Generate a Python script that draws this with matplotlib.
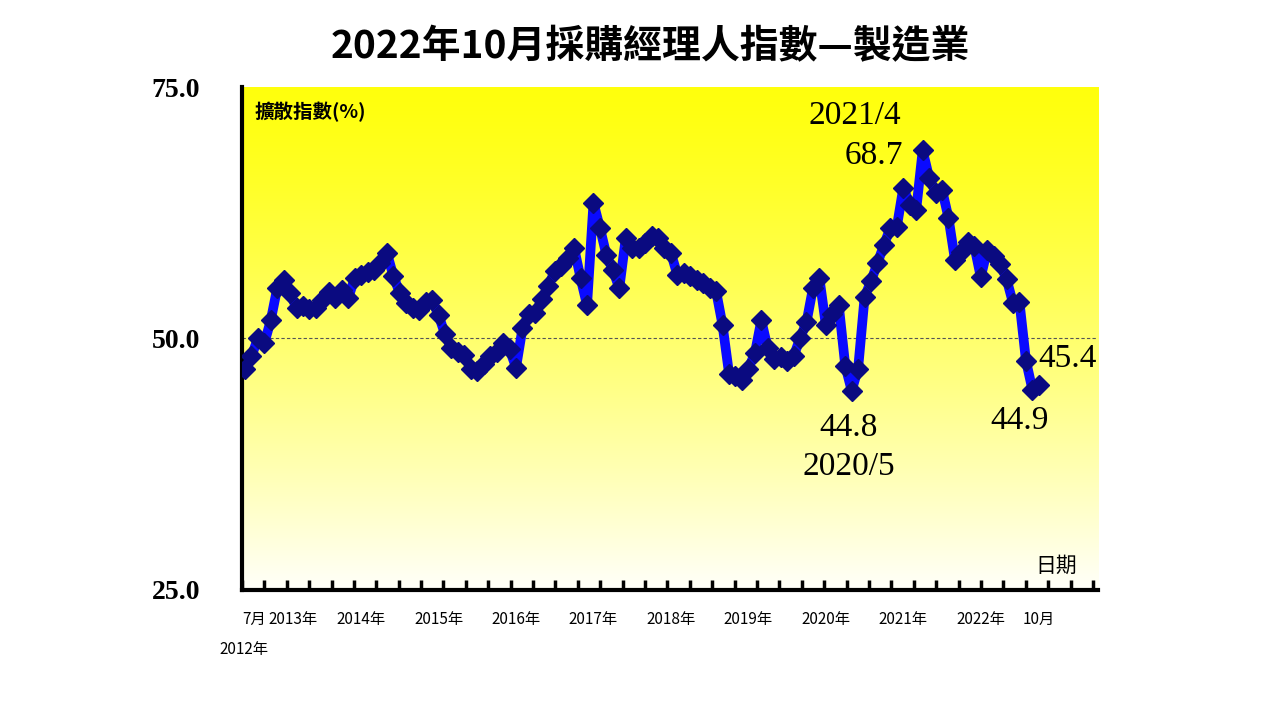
import numpy as np
import matplotlib.pyplot as plt

plt.rcParams['font.family'] = ['Noto Sans CJK TC', 'DejaVu Sans']

# Monthly PMI, Jul 2012 - Oct 2022
pmi_2012 = [47.0, 48.2, 50.0, 49.5, 51.8, 55.0]
pmi_2013 = [55.8, 54.5, 53.0, 53.2, 52.9, 53.0, 53.8, 54.6, 54.0, 54.8, 54.0, 56.0]
pmi_2014 = [56.3, 56.6, 56.8, 57.5, 58.5, 56.2, 54.5, 53.5, 53.0, 52.8, 53.6, 53.8]
pmi_2015 = [52.3, 50.4, 49.0, 48.6, 48.3, 47.0, 46.8, 47.5, 48.2, 48.6, 49.5, 48.9]
pmi_2016 = [47.1, 51.0, 52.4, 52.5, 53.9, 55.2, 56.7, 57.2, 58.0, 59.0, 56.0, 53.3]
pmi_2017 = [63.5, 61.0, 58.3, 56.8, 55.0, 60.0, 59.0, 59.0, 59.5, 60.2, 60.0, 59.0]
pmi_2018 = [58.5, 56.3, 56.5, 56.2, 55.8, 55.5, 55.0, 54.7, 51.3, 46.5, 46.3, 45.9]
pmi_2019 = [47.0, 48.5, 51.8, 49.0, 48.0, 48.1, 47.8, 48.2, 50.0, 51.6, 55.0, 56.0]
pmi_2020 = [51.3, 52.4, 53.3, 47.3, 44.8, 47.0, 54.1, 55.7, 57.5, 59.3, 61.0, 61.1]
pmi_2021 = [65.0, 63.3, 62.8, 68.7, 66.0, 64.5, 64.8, 62.0, 57.8, 58.6, 59.6, 59.2]
pmi_2022 = [56.1, 58.8, 58.2, 57.4, 55.9, 53.5, 53.6, 47.8, 44.9, 45.4]

pmi = pmi_2012 + pmi_2013 + pmi_2014 + pmi_2015 + pmi_2016 + pmi_2017 + \
    pmi_2018 + pmi_2019 + pmi_2020 + pmi_2021 + pmi_2022
months = np.arange(len(pmi))

year_labels = ['2013年', '2014年', '2015年', '2016年', '2017年', '2018年',
               '2019年', '2020年', '2021年', '2022年']

fig = plt.figure(figsize=(12.8, 7.2), dpi=100)
ax = fig.add_axes([0.189, 0.181, 0.669, 0.698])

x0, x1 = -0.47, 132.2
ax.set_xlim(x0, x1)
ax.set_ylim(25, 75)

# yellow gradient background
grad = np.linspace(0, 1, 256).reshape(-1, 1)
cols = np.zeros((256, 1, 3))
cols[..., 0] = 1.0
cols[..., 1] = 1.0
cols[..., 2] = 0.05 + 0.93 * (1 - grad[::-1]) ** 1.3
ax.imshow(cols, extent=[x0, x1, 25, 75], aspect='auto', origin='upper', zorder=0)

ax.axhline(50, color='#555555', lw=0.8, ls=(0, (3, 2)), zorder=1)
ax.plot(months, pmi, color='#0a0aff', lw=7, zorder=2)
ax.plot(months, pmi, ls='none', marker='D', ms=10, color='#0a0a80', zorder=3)

for s in ['top', 'right']:
    ax.spines[s].set_visible(False)
ax.spines['left'].set_linewidth(3)
ax.spines['bottom'].set_linewidth(3)

ax.set_yticks([25, 50, 75])
ax.set_yticklabels(['25.0', '50.0', '75.0'], family='Liberation Serif',
                   fontweight='bold', fontsize=20)
ax.tick_params(axis='y', length=0, pad=30)

ax.set_xticks(x0 + np.arange(39) * 3.47)
ax.set_xticklabels([])
ax.tick_params(axis='x', direction='in', length=7, width=2.5)

lab_y = 22.0
ax.text(-0.4, lab_y, '7月', fontsize=11, ha='left', va='center')
for k, lab in enumerate(year_labels):
    ax.text(6 + 12 * k + (1.5 if k == 0 else 0), lab_y, lab, fontsize=11,
            ha='center', va='center')
ax.text(123, lab_y, '10月', fontsize=11, ha='center', va='center')
ax.text(-4, 19.0, '2012年', fontsize=11, ha='left', va='center')

ax.text(1.5, 72.5, '擴散指數(%)', fontsize=14, fontweight='bold', va='center')
ax.text(129, 27.4, '日期', fontsize=15, va='center', ha='right')

serif = dict(family='Liberation Serif', fontsize=24, ha='center')
ax.text(94.5, 72.2, '2021/4', va='center', **serif)
ax.text(97.5, 68.2, '68.7', va='center', **serif)
ax.text(93.5, 41.1, '44.8', va='center', **serif)
ax.text(93.5, 37.2, '2020/5', va='center', **serif)
ax.text(120, 41.8, '44.9', va='center', **serif)
ax.text(127.5, 48.0, '45.4', va='center', **serif)

fig.text(0.508, 0.935, '2022年10月採購經理人指數—製造業', fontsize=28,
         fontweight='bold', ha='center', va='center')

fig.savefig('out.png', dpi=100, facecolor='white')
